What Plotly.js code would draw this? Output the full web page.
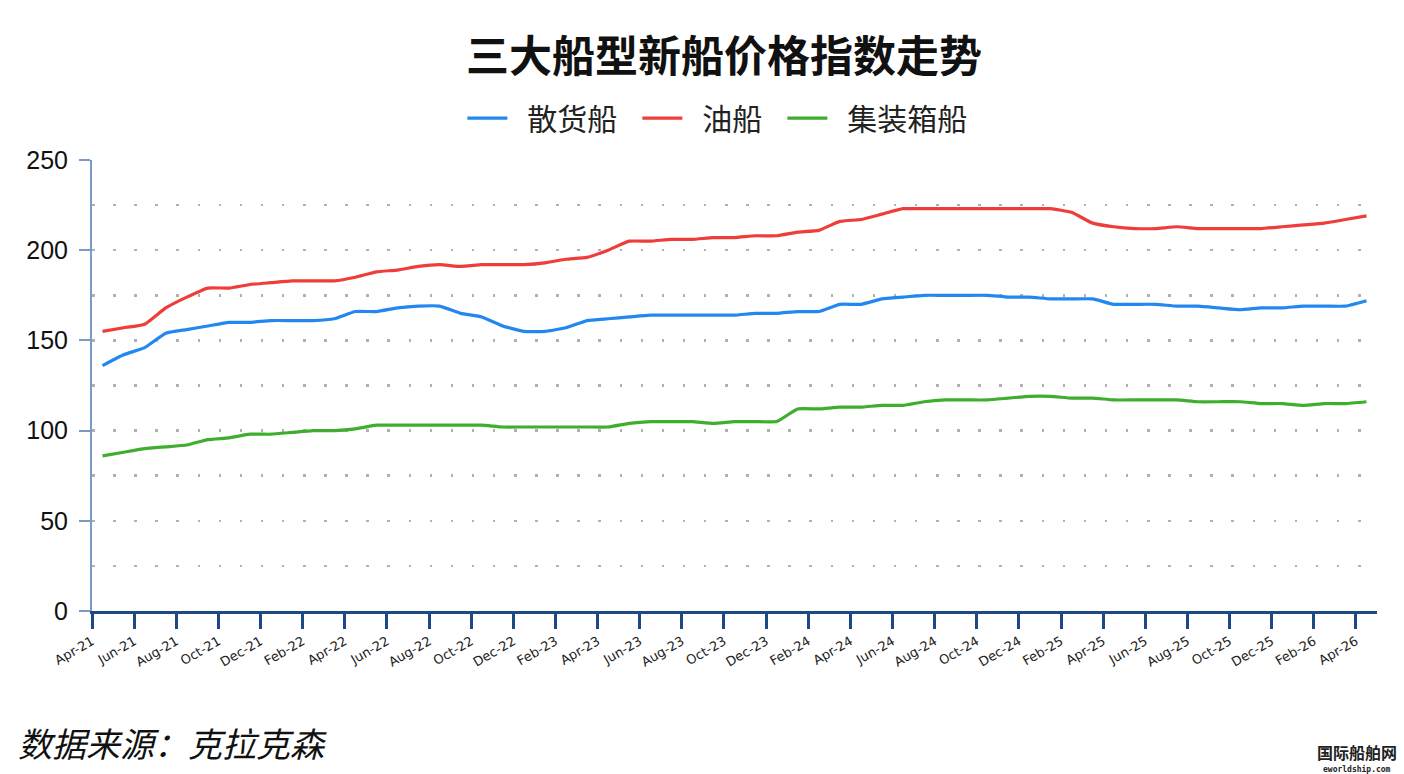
<!DOCTYPE html>
<html>
<head>
<meta charset="utf-8">
<script src="https://cdn.plot.ly/plotly-3.0.1.min.js"></script>
<style>html,body{margin:0;padding:0;background:#fff;}#chart{width:1404px;height:774px;}</style>
</head>
<body>
<div id="chart"></div>
<script>
// Months Apr-21 .. Apr-26 (monthly data points)
const months = [
 "Apr-21","May-21","Jun-21","Jul-21","Aug-21","Sep-21","Oct-21","Nov-21","Dec-21","Jan-22","Feb-22","Mar-22",
 "Apr-22","May-22","Jun-22","Jul-22","Aug-22","Sep-22","Oct-22","Nov-22","Dec-22","Jan-23","Feb-23","Mar-23",
 "Apr-23","May-23","Jun-23","Jul-23","Aug-23","Sep-23","Oct-23","Nov-23","Dec-23","Jan-24","Feb-24","Mar-24",
 "Apr-24","May-24","Jun-24","Jul-24","Aug-24","Sep-24","Oct-24","Nov-24","Dec-24","Jan-25","Feb-25","Mar-25",
 "Apr-25","May-25","Jun-25","Jul-25","Aug-25","Sep-25","Oct-25","Nov-25","Dec-25","Jan-26","Feb-26","Mar-26",
 "Apr-26"
];
// 散货船 (bulk carrier)
const bulk = [136,142,146,154,156,158,160,160,161,161,161,162,166,166,168,169,169,165,163,158,155,155,157,161,
 162,163,164,164,164,164,164,165,165,166,166,170,170,173,174,175,175,175,175,174,174,173,173,173,
 170,170,170,169,169,168,167,168,168,169,169,169,172];
// 油船 (tanker)
const tanker = [155,157,159,168,174,179,179,181,182,183,183,183,185,188,189,191,192,191,192,192,192,193,195,196,
 200,205,205,206,206,207,207,208,208,210,211,216,217,220,223,223,223,223,223,223,223,223,221,215,
 213,212,212,213,212,212,212,212,213,214,215,217,219];
// 集装箱船 (container ship)
const container = [86,88,90,91,92,95,96,98,98,99,100,100,101,103,103,103,103,103,103,102,102,102,102,102,
 102,104,105,105,105,104,105,105,105,112,112,113,113,114,114,116,117,117,117,118,119,119,118,118,
 117,117,117,117,116,116,116,115,115,114,115,115,116];
// Tick labels (every second month)
const tickLabels = ["Apr-21","Jun-21","Aug-21","Oct-21","Dec-21","Feb-22","Apr-22","Jun-22","Aug-22","Oct-22",
 "Dec-22","Feb-23","Apr-23","Jun-23","Aug-23","Oct-23","Dec-23","Feb-24","Apr-24","Jun-24","Aug-24","Oct-24",
 "Dec-24","Feb-25","Apr-25","Jun-25","Aug-25","Oct-25","Dec-25","Feb-26","Apr-26"];
const seriesNames = ["散货船","油船","集装箱船"];

const xs = months.map((m,i)=>i+0.5);
const tickVals = tickLabels.map(l=>months.indexOf(l));

const colors = ["#2288f0","#ee3d3a","#3fae2e"];
const pad = "\u2002";
const data = [bulk, tanker, container].map((ys,k)=>({
  x: xs, y: ys, type: "scatter", mode: "lines", name: pad + seriesNames[k] + pad,
  text: months, hoverinfo: "text+y",
  line: {color: colors[k], width: 3.2, shape: "spline", smoothing: 0.4}
}));

const dotGrid = "2.5px,18.6px";
const layout = {
  width: 1404, height: 774,
  paper_bgcolor: "#fff", plot_bgcolor: "#fff",
  margin: {l: 92, r: 27, t: 160, b: 163},
  showlegend: true,
  title: {
    text: "<b>三大船型新船价格指数走势</b>",
    font: {family: "Noto Sans CJK SC", size: 43, color: "#111"},
    x: 0.5157, xref: "container", xanchor: "center",
    y: 0.926, yref: "container", yanchor: "middle"
  },
  legend: {
    orientation: "h", x: 0.4925, xanchor: "center", y: 1.093, yanchor: "middle",
    font: {family: "Noto Sans CJK SC", size: 30, color: "#222"},
    itemwidth: 40, bgcolor: "rgba(0,0,0,0)"
  },
  xaxis: {
    range: [0, months.length], showgrid: false, zeroline: false,
    showline: true, linecolor: "#1d4a86", linewidth: 3,
    ticks: "outside", ticklen: 15, tickwidth: 3, tickcolor: "#1d4a86",
    tickmode: "array", tickvals: tickVals, ticktext: tickLabels,
    tickangle: -30,
    tickfont: {family: "DejaVu Sans", size: 13, color: "#222"}
  },
  yaxis: {
    range: [0, 250], dtick: 50, tick0: 0, zeroline: false,
    showline: true, linecolor: "#7b9bc6", linewidth: 2,
    ticks: "outside", ticklen: 11, tickwidth: 2, tickcolor: "#7b9bc6",
    tickfont: {family: "Liberation Sans", size: 25, color: "#111"},
    ticklabelstandoff: 6,
    showgrid: true, gridcolor: "#b0b0b0", gridwidth: 2.5, griddash: dotGrid,
    minor: {dtick: 25, showgrid: true, gridcolor: "#b0b0b0", gridwidth: 2.5, griddash: dotGrid, ticks: ""}
  },
  annotations: [
    {text: "数据来源：克拉克森", xref: "paper", yref: "paper", x: (16-92)/1285, y: (611-742)/451,
     xanchor: "left", yanchor: "middle", showarrow: false,
     font: {family: "Noto Sans CJK SC", size: 34, style: "italic", color: "#111"}},
    {text: "<b>国际船舶网</b>", xref: "paper", yref: "paper", x: (1357-92)/1285, y: (611-752)/451,
     xanchor: "center", yanchor: "middle", showarrow: false,
     font: {family: "Noto Sans CJK SC", size: 16, color: "#222"}},
    {text: "<b>eworldship.com</b>", xref: "paper", yref: "paper", x: (1357-92)/1285, y: (611-769)/451,
     xanchor: "center", yanchor: "middle", showarrow: false,
     font: {family: "DejaVu Sans Mono", size: 8, color: "#222"}}
  ],
  hovermode: "closest"
};

Plotly.newPlot("chart", data, layout, {displayModeBar: false, staticPlot: true});
</script>
</body>
</html>
